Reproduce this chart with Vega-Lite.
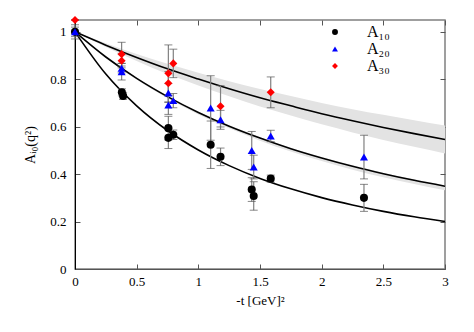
{
  "$schema": "https://vega.github.io/schema/vega-lite/v6.json",
  "width": 370,
  "height": 249,
  "autosize": "none",
  "padding": {"left": 75, "top": 20, "right": 29, "bottom": 63},
  "config": {
    "view": {"stroke": "#808080", "strokeWidth": 1.5},
    "font": "Liberation Serif"
  },
  "resolve": {"axis": {"x": "independent", "y": "independent"}},
  "datasets": {
    "pts": [
      {"series": "A10", "t": 0, "v": 1.0, "lo": 0.97, "hi": 1.03},
      {"series": "A10", "t": 0.38, "v": 0.745, "lo": 0.73, "hi": 0.76},
      {"series": "A10", "t": 0.39, "v": 0.73, "lo": 0.715, "hi": 0.745},
      {"series": "A10", "t": 0.757, "v": 0.594, "lo": 0.544, "hi": 0.644},
      {"series": "A10", "t": 0.757, "v": 0.553, "lo": 0.508, "hi": 0.598},
      {"series": "A10", "t": 0.797, "v": 0.566, "lo": 0.546, "hi": 0.586},
      {"series": "A10", "t": 1.10, "v": 0.524, "lo": 0.424, "hi": 0.624},
      {"series": "A10", "t": 1.18, "v": 0.473, "lo": 0.436, "hi": 0.51},
      {"series": "A10", "t": 1.433, "v": 0.335, "lo": 0.285, "hi": 0.385},
      {"series": "A10", "t": 1.449, "v": 0.308, "lo": 0.248, "hi": 0.368},
      {"series": "A10", "t": 1.587, "v": 0.381, "lo": 0.366, "hi": 0.396},
      {"series": "A10", "t": 2.343, "v": 0.3, "lo": 0.243, "hi": 0.357},
      {"series": "A20", "t": 0, "v": 1.0, "lo": 0.98, "hi": 1.02},
      {"series": "A20", "t": 0.378, "v": 0.847, "lo": 0.827, "hi": 0.867},
      {"series": "A20", "t": 0.378, "v": 0.832, "lo": 0.797, "hi": 0.867},
      {"series": "A20", "t": 0.757, "v": 0.742, "lo": 0.702, "hi": 0.782},
      {"series": "A20", "t": 0.757, "v": 0.692, "lo": 0.652, "hi": 0.732},
      {"series": "A20", "t": 0.797, "v": 0.71, "lo": 0.68, "hi": 0.74},
      {"series": "A20", "t": 1.10, "v": 0.679, "lo": 0.543, "hi": 0.815},
      {"series": "A20", "t": 1.18, "v": 0.629, "lo": 0.589, "hi": 0.669},
      {"series": "A20", "t": 1.433, "v": 0.5, "lo": 0.42, "hi": 0.58},
      {"series": "A20", "t": 1.449, "v": 0.43, "lo": 0.38, "hi": 0.48},
      {"series": "A20", "t": 1.587, "v": 0.561, "lo": 0.537, "hi": 0.585},
      {"series": "A20", "t": 2.343, "v": 0.472, "lo": 0.38, "hi": 0.564},
      {"series": "A30", "t": 0, "v": 1.05, "lo": 1.05, "hi": 1.05},
      {"series": "A30", "t": 0.378, "v": 0.906, "lo": 0.856, "hi": 0.956},
      {"series": "A30", "t": 0.378, "v": 0.878, "lo": 0.848, "hi": 0.908},
      {"series": "A30", "t": 0.757, "v": 0.825, "lo": 0.705, "hi": 0.945},
      {"series": "A30", "t": 0.757, "v": 0.783, "lo": 0.733, "hi": 0.833},
      {"series": "A30", "t": 0.797, "v": 0.867, "lo": 0.807, "hi": 0.927},
      {"series": "A30", "t": 1.18, "v": 0.686, "lo": 0.599, "hi": 0.773},
      {"series": "A30", "t": 1.587, "v": 0.745, "lo": 0.68, "hi": 0.81}
    ],
    "curves": [
      {"series": "A10", "t": 0, "v": 1.0},
      {"series": "A10", "t": 0.25, "v": 0.822},
      {"series": "A10", "t": 0.5, "v": 0.688},
      {"series": "A10", "t": 0.75, "v": 0.584},
      {"series": "A10", "t": 1.0, "v": 0.502},
      {"series": "A10", "t": 1.25, "v": 0.436},
      {"series": "A10", "t": 1.5, "v": 0.382},
      {"series": "A10", "t": 1.75, "v": 0.338},
      {"series": "A10", "t": 2.0, "v": 0.301},
      {"series": "A10", "t": 2.25, "v": 0.27},
      {"series": "A10", "t": 2.5, "v": 0.243},
      {"series": "A10", "t": 2.75, "v": 0.22},
      {"series": "A10", "t": 3.0, "v": 0.2},
      {"series": "A20", "t": 0, "v": 1.0, "lo": 1.0, "hi": 1.0},
      {"series": "A20", "t": 0.25, "v": 0.894, "lo": 0.891, "hi": 0.896},
      {"series": "A20", "t": 0.5, "v": 0.804, "lo": 0.799, "hi": 0.807},
      {"series": "A20", "t": 0.75, "v": 0.727, "lo": 0.72, "hi": 0.731},
      {"series": "A20", "t": 1.0, "v": 0.66, "lo": 0.652, "hi": 0.664},
      {"series": "A20", "t": 1.25, "v": 0.602, "lo": 0.593, "hi": 0.606},
      {"series": "A20", "t": 1.5, "v": 0.552, "lo": 0.541, "hi": 0.556},
      {"series": "A20", "t": 1.75, "v": 0.507, "lo": 0.495, "hi": 0.511},
      {"series": "A20", "t": 2.0, "v": 0.468, "lo": 0.455, "hi": 0.472},
      {"series": "A20", "t": 2.25, "v": 0.433, "lo": 0.419, "hi": 0.437},
      {"series": "A20", "t": 2.5, "v": 0.402, "lo": 0.387, "hi": 0.406},
      {"series": "A20", "t": 2.75, "v": 0.374, "lo": 0.358, "hi": 0.378},
      {"series": "A20", "t": 3.0, "v": 0.349, "lo": 0.332, "hi": 0.353},
      {"series": "A30", "t": 0, "v": 1.0, "lo": 1.0, "hi": 1.0},
      {"series": "A30", "t": 0.25, "v": 0.944, "lo": 0.936, "hi": 0.952},
      {"series": "A30", "t": 0.5, "v": 0.892, "lo": 0.877, "hi": 0.907},
      {"series": "A30", "t": 0.75, "v": 0.844, "lo": 0.822, "hi": 0.866},
      {"series": "A30", "t": 1.0, "v": 0.801, "lo": 0.774, "hi": 0.828},
      {"series": "A30", "t": 1.25, "v": 0.76, "lo": 0.728, "hi": 0.792},
      {"series": "A30", "t": 1.5, "v": 0.722, "lo": 0.685, "hi": 0.759},
      {"series": "A30", "t": 1.75, "v": 0.688, "lo": 0.647, "hi": 0.729},
      {"series": "A30", "t": 2.0, "v": 0.655, "lo": 0.61, "hi": 0.7},
      {"series": "A30", "t": 2.25, "v": 0.625, "lo": 0.576, "hi": 0.674},
      {"series": "A30", "t": 2.5, "v": 0.597, "lo": 0.544, "hi": 0.65},
      {"series": "A30", "t": 2.75, "v": 0.571, "lo": 0.515, "hi": 0.627},
      {"series": "A30", "t": 3.0, "v": 0.546, "lo": 0.487, "hi": 0.605}
    ]
  },
  "layer": [
    {
      "data": {"name": "curves"},
      "transform": [{"filter": "datum.series != 'A10'"}],
      "mark": {"type": "area", "color": "#e3e3e3", "interpolate": "monotone"},
      "encoding": {
        "x": {"field": "t", "type": "quantitative", "scale": {"domain": [0, 3], "nice": false},
          "axis": {"title": "-t [GeV]²", "values": [0, 0.5, 1, 1.5, 2, 2.5, 3], "format": "~g", "grid": false,
            "labelFont": "Liberation Serif", "labelFontSize": 13, "labelColor": "black",
            "titleFont": "Liberation Serif", "titleFontSize": 13, "titleFontWeight": "normal", "titleColor": "black",
            "domainColor": "#555", "tickColor": "#555", "tickSize": -5, "labelPadding": 11, "titlePadding": 6, "labelFlush": false}},
        "y": {"field": "lo", "type": "quantitative", "scale": {"domain": [0, 1.05], "nice": false},
          "axis": {"title": "Aᵢ₀(q²)", "values": [0, 0.2, 0.4, 0.6, 0.8, 1], "format": "~g", "grid": false,
            "labelFont": "Liberation Serif", "labelFontSize": 13, "labelColor": "black",
            "titleFont": "Liberation Serif", "titleFontSize": 14, "titleFontWeight": "normal", "titleColor": "black",
            "domainColor": "black", "tickColor": "#555", "tickSize": -5, "labelPadding": 14, "titlePadding": 12, "labelFlush": false}},
        "y2": {"field": "hi"},
        "detail": {"field": "series"}
      }
    },
    {
      "data": {"name": "curves"},
      "mark": {"type": "line", "color": "black", "strokeWidth": 1.6, "interpolate": "monotone"},
      "encoding": {
        "x": {"field": "t", "type": "quantitative",
          "axis": {"orient": "top", "title": null, "labels": false, "values": [0, 0.5, 1, 1.5, 2, 2.5, 3], "grid": false,
            "domain": false, "tickColor": "#555", "tickSize": -5}},
        "y": {"field": "v", "type": "quantitative",
          "axis": {"orient": "right", "title": null, "labels": false, "values": [0, 0.2, 0.4, 0.6, 0.8, 1], "grid": false,
            "domain": false, "tickColor": "#555", "tickSize": -5}},
        "detail": {"field": "series"}
      }
    },
    {
      "data": {"name": "pts"},
      "mark": {"type": "rule", "color": "#808080", "strokeWidth": 1.2},
      "encoding": {
        "x": {"field": "t", "type": "quantitative", "axis": null},
        "y": {"field": "lo", "type": "quantitative", "axis": null},
        "y2": {"field": "hi"}
      }
    },
    {
      "data": {"name": "pts"},
      "mark": {"type": "tick", "color": "#555", "orient": "horizontal", "size": 8, "thickness": 1},
      "encoding": {
        "x": {"field": "t", "type": "quantitative", "axis": null},
        "y": {"field": "lo", "type": "quantitative", "axis": null}
      }
    },
    {
      "data": {"name": "pts"},
      "mark": {"type": "tick", "color": "#555", "orient": "horizontal", "size": 8, "thickness": 1},
      "encoding": {
        "x": {"field": "t", "type": "quantitative", "axis": null},
        "y": {"field": "hi", "type": "quantitative", "axis": null}
      }
    },
    {
      "data": {"name": "pts"},
      "mark": {"type": "point", "filled": true, "opacity": 1, "size": 65},
      "encoding": {
        "x": {"field": "t", "type": "quantitative", "axis": null},
        "y": {"field": "v", "type": "quantitative", "axis": null},
        "color": {"field": "series", "type": "nominal",
          "scale": {"domain": ["A10", "A20", "A30"], "range": ["black", "blue", "red"]},
          "legend": {"title": null, "orient": "none", "legendX": 252, "legendY": 4,
            "labelExpr": "datum.label == 'A10' ? 'A₁₀' : datum.label == 'A20' ? 'A₂₀' : 'A₃₀'",
            "labelFont": "Liberation Serif", "labelFontSize": 16, "labelColor": "black",
            "labelOffset": 24, "symbolSize": 35, "rowPadding": 1, "padding": 0, "symbolOpacity": 1}},
        "shape": {"field": "series", "type": "nominal",
          "scale": {"domain": ["A10", "A20", "A30"], "range": ["circle", "triangle-up", "diamond"]}}
      }
    }
  ]
}
